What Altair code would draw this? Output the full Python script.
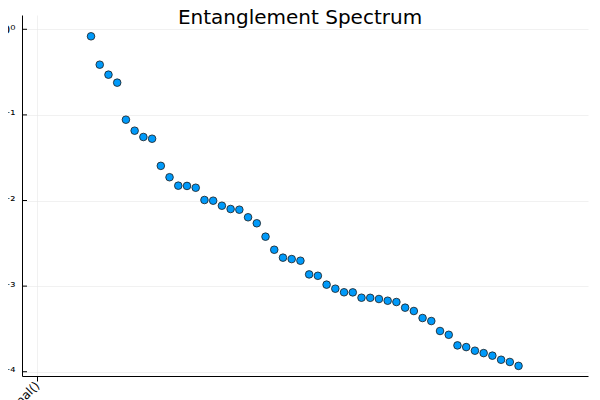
import altair as alt
import pandas as pd

title_text = "Entanglement Spectrum"
index = list(range(1, 51))
spectrum = [0.828, 0.386, 0.295, 0.238, 0.0879, 0.0654, 0.0552, 0.0527, 0.0254, 0.0187,
            0.0149, 0.0148, 0.0141, 0.01014, 0.00995, 0.00869, 0.00796, 0.00781, 0.00637, 0.00542,
            0.00378, 0.00266, 0.00215, 0.00207, 0.00198, 0.00137, 0.00132, 0.00104, 0.000933, 0.000847,
            0.000845, 0.000732, 0.000730, 0.000707, 0.000675, 0.000652, 0.000560, 0.000512, 0.000424, 0.000391,
            0.000299, 0.000270, 0.000203, 0.000194, 0.000176, 0.000165, 0.000154, 0.000138, 0.000130, 0.000117]
y_ticks = [1, 0.1, 0.01, 0.001, 0.0001]
x_ticks = [-5.19]
x_tick_label = "Diagonal()"
x_domain = [-6.91, 57.96]
y_domain = [10 ** -4.05, 10 ** 0.167]

df = pd.DataFrame({"i": index, "s": spectrum})
ticks_df = pd.DataFrame({"t": y_ticks})
title_df = pd.DataFrame({"label": [title_text]})

yscale = alt.Scale(type="log", domain=y_domain, nice=False)
xscale = alt.Scale(domain=x_domain, nice=False, zero=False)

label_expr = ("'10' + (datum.value >= 0.5 ? '⁰' : datum.value >= 0.05 ? '⁻¹' : "
              "datum.value >= 0.005 ? '⁻²' : datum.value >= 0.0005 ? '⁻³' : '⁻⁴')")

points = alt.Chart(df).mark_circle(
    size=58, color="#009AFA", opacity=1, stroke="#1a1a1a", strokeWidth=0.8
).encode(
    x=alt.X("i:Q", scale=xscale, title=None,
            axis=alt.Axis(values=x_ticks, labelExpr=f"'{x_tick_label}'", labelAngle=315,
                          labelAlign="right", labelBaseline="middle", labelPadding=2,
                          labelFontSize=12, labelFont="DejaVu Sans", labelColor="#000",
                          tickSize=5, tickColor="#000", domainColor="#000", domainWidth=1,
                          gridColor="#e8e8e8", gridWidth=0.6)),
    y=alt.Y("s:Q", scale=yscale, title=None,
            axis=alt.Axis(values=y_ticks, labelExpr=label_expr, tickSize=0, labelPadding=7,
                          labelFontSize=13, labelFont="DejaVu Sans", labelColor="#000",
                          domainColor="#000", domainWidth=1,
                          gridColor="#e8e8e8", gridWidth=0.6)),
)

inner_ticks = alt.Chart(ticks_df).mark_rule(color="#000", strokeWidth=1).encode(
    y=alt.Y("t:Q", scale=yscale),
    x=alt.value(0),
    x2=alt.value(5),
)

title_mark = alt.Chart(title_df).mark_text(
    fontSize=20, font="DejaVu Sans", color="#000", align="center", baseline="alphabetic"
).encode(
    text="label:N",
    x=alt.value(278),
    y=alt.value(9),
)

chart = alt.layer(inner_ticks, points, title_mark).properties(
    width=566, height=361,
    background="white",
    autosize=alt.AutoSizeParams(type="none"),
    padding={"left": 14, "top": 7, "right": 4, "bottom": 24},
).configure_view(stroke=None)

chart.save("out.html", embed_options={"renderer": "svg", "actions": False})
